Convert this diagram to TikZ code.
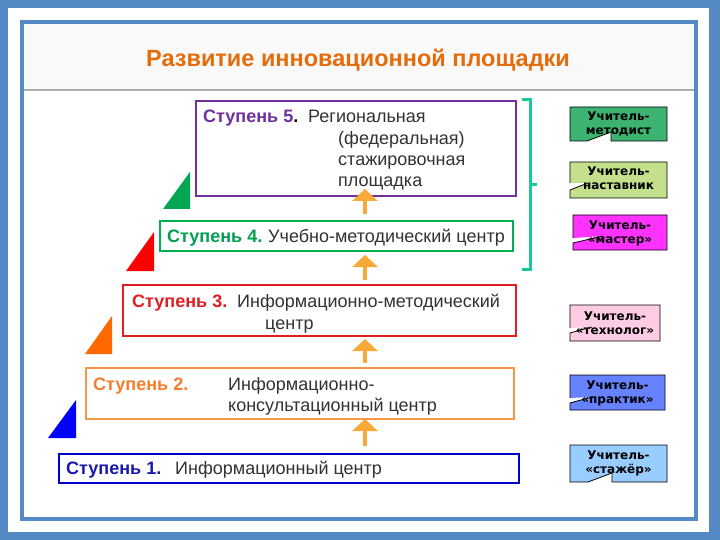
\documentclass[tikz,border=0pt]{standalone}
\usepackage{fontspec}
\setmainfont{Liberation Sans}
\newfontfamily\djv{DejaVu Sans}
\usetikzlibrary{arrows.meta,calc}
\definecolor{frameblue}{RGB}{84,137,198}
\definecolor{titlebg}{RGB}{249,249,249}
\definecolor{titleor}{RGB}{228,108,10}
\definecolor{bodytxt}{RGB}{50,50,50}
\definecolor{cpurple}{RGB}{112,48,160}
\definecolor{cgreen}{RGB}{0,176,80}
\definecolor{cgreentx}{RGB}{0,160,80}
\definecolor{cred}{RGB}{225,30,35}
\definecolor{corange}{RGB}{247,150,70}
\definecolor{corangetx}{RGB}{245,125,45}
\definecolor{cblue}{RGB}{0,0,200}
\definecolor{cbluetx}{RGB}{25,25,170}
\definecolor{arror}{RGB}{250,168,55}
\definecolor{brack}{RGB}{25,200,150}
\definecolor{tgreen}{RGB}{0,166,81}
\definecolor{tred}{RGB}{255,0,0}
\definecolor{torange}{RGB}{255,105,0}
\definecolor{tblue}{RGB}{0,0,255}
\definecolor{kmetod}{RGB}{60,179,113}
\definecolor{knast}{RGB}{195,224,140}
\definecolor{kmast}{RGB}{255,50,255}
\definecolor{ktech}{RGB}{255,204,228}
\definecolor{kprak}{RGB}{102,130,255}
\definecolor{kstaj}{RGB}{153,204,255}
\tikzset{
  stepbox/.style={draw, line width=2.5pt, inner sep=0pt, outer sep=0pt, anchor=north west},
  steptxt/.style={inner sep=0pt, anchor=base west, font=\fontsize{18}{21}\selectfont, text=bodytxt},
  steplbl/.style={inner sep=0pt, anchor=base west, font=\fontsize{18}{21}\selectfont\bfseries},
  upar/.style={line width=4pt, draw=arror, -{Triangle[width=25pt,length=12pt]}},
  tbox/.style={draw=black, line width=0.8pt},
  ttxt/.style={inner sep=0pt, align=center, font=\djv\bfseries\fontsize{12}{13.8}\selectfont, text=black}
}
\begin{document}
\begin{tikzpicture}[x=1pt,y=-1pt]
\useasboundingbox (0,0) rectangle (720,540);
% frame
\fill[frameblue] (0,0) rectangle (720,540);
\fill[white] (8,8) rectangle (709,532);
\fill[titlebg] (21.5,22) rectangle (695.5,90);
\draw[gray!65, line width=2pt] (23,90) -- (694,90);
\draw[frameblue, line width=4pt] (21.5,22) rectangle (695.5,518.5);
% title
\node[inner sep=0pt, anchor=base, font=\fontsize{23.5}{26}\selectfont\bfseries, text=titleor] (title) at (358,67) {Развитие инновационной площадки};
% step boxes
\node[stepbox, draw=cpurple, minimum width=320pt, minimum height=95pt] (s5) at (196,101) {};
\node[stepbox, draw=cgreen, minimum width=353pt, minimum height=30pt] (s4) at (160,221) {};
\node[stepbox, draw=cred, minimum width=393pt, minimum height=51pt] (s3) at (123,285) {};
\node[stepbox, draw=corange, minimum width=428pt, minimum height=51pt] (s2) at (86,368) {};
\node[stepbox, draw=cblue, minimum width=460pt, minimum height=29pt] (s1) at (59,454) {};
% step texts
\node[steplbl, text=cpurple] (l5) at (203,123) {Ступень 5\textcolor{black}{.}};
\node[steptxt] (t5a) at (308,123) {Региональная};
\node[steptxt] (t5b) at (338,145) {(федеральная)};
\node[steptxt] (t5c) at (338,166) {стажировочная};
\node[steptxt] (t5d) at (338,187) {площадка};
\node[steplbl, text=cgreentx] (l4) at (167,243) {Ступень 4.};
\node[steptxt] (t4) at (268,243) {Учебно-методический центр};
\node[steplbl, text=cred] (l3) at (132,307) {Ступень 3.};
\node[steptxt] (t3a) at (237,307) {Информационно-методический};
\node[steptxt] (t3b) at (265,329) {центр};
\node[steplbl, text=corangetx] (l2) at (93,390) {Ступень 2.};
\node[steptxt] (t2a) at (228,390) {Информационно-};
\node[steptxt] (t2b) at (228,411) {консультационный центр};
\node[steplbl, text=cbluetx] (l1) at (66,474) {Ступень 1.};
\node[steptxt] (t1) at (175,474) {Информационный центр};
% triangles
\fill[tgreen] (163,209) -- (190,172) -- (190,209) -- cycle;
\fill[tred] (126,271) -- (154,232) -- (154,271) -- cycle;
\fill[torange] (85,354) -- (112,316) -- (112,354) -- cycle;
\fill[tblue] (48,438) -- (76,400) -- (76,438) -- cycle;
% arrows
\coordinate (ax) at (365,0);
\draw[upar] ([yshift=8pt]s1.north -| ax) -- (s2.south -| ax);
\draw[upar] ([yshift=5pt]s2.north -| ax) -- ([yshift=-3pt]s3.south -| ax);
\draw[upar] ([yshift=5pt]s3.north -| ax) -- ([yshift=-4pt]s4.south -| ax);
\draw[upar] ([yshift=7pt]s4.north -| ax) -- ([yshift=7pt]s5.south -| ax);
% bracket
\draw[brack, line width=3pt] (522,100) -- (530,100) -- (530,269) -- (522,269);
\draw[brack, line width=3pt] (530,185) -- (537,185);
% teacher boxes
\fill[kmetod] (570,107) -- (667,107) -- (667,141) -- (611,141) -- (611,132) -- (587,141) -- (570,141) -- cycle;
\draw[tbox] (570,107) -- (667,107) -- (667,141) -- (611,141) -- (611,132) -- (587,141) -- (570,141) -- cycle;
\node[ttxt] (k1) at (618.5,124) {Учитель-\\методист};
\fill[knast] (570,162) -- (667,162) -- (667,198) -- (570,198) -- (570,190) -- (588,183) -- (570,183) -- cycle;
\draw[tbox] (570,183) -- (570,162) -- (667,162) -- (667,198) -- (570,198) -- (570,190) -- (588,183);
\node[ttxt] (k2) at (618.5,178) {Учитель-\\наставник};
\fill[kmast] (573,215) -- (667,215) -- (667,250) -- (573,250) -- (573,243) -- (603,236) -- (573,238) -- cycle;
\draw[tbox] (573,238) -- (573,215) -- (667,215) -- (667,250) -- (573,250) -- (573,243) -- (603,236);
\node[ttxt] (k3) at (620,233) {Учитель-\\«мастер»};
\fill[ktech] (570,305) -- (660,305) -- (660,341) -- (570,341) -- (570,333) -- (592,327) -- (570,328) -- cycle;
\draw[tbox] (570,328) -- (570,305) -- (660,305) -- (660,341) -- (570,341) -- (570,333) -- (592,327);
\node[ttxt] (k4) at (615,323) {Учитель-\\«технолог»};
\fill[kprak] (570,375) -- (665,375) -- (665,410) -- (570,410) -- (570,403) -- (592,397) -- (570,398) -- cycle;
\draw[tbox] (570,398) -- (570,375) -- (665,375) -- (665,410) -- (570,410) -- (570,403) -- (592,397);
\node[ttxt] (k5) at (617.5,393) {Учитель-\\«практик»};
\fill[kstaj] (570,445) -- (667,445) -- (667,482) -- (612,482) -- (612,473) -- (588,482) -- (570,482) -- cycle;
\draw[tbox] (570,445) -- (667,445) -- (667,482) -- (612,482) -- (612,473) -- (588,482) -- (570,482) -- cycle;
\node[ttxt] (k6) at (618.5,463) {Учитель-\\«стажёр»};
\end{tikzpicture}
\end{document}
